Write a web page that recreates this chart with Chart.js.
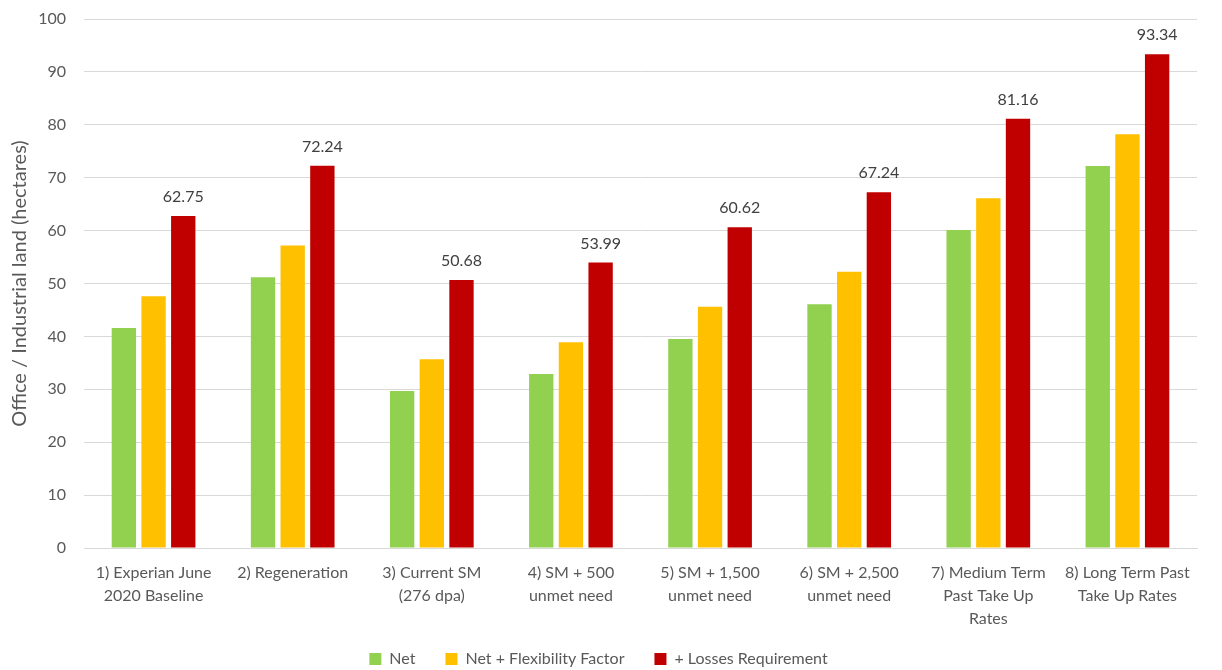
<!DOCTYPE html>
<html>
<head>
<meta charset="utf-8">
<script src="https://cdn.jsdelivr.net/npm/chart.js@4"></script>
<style>
  html, body { margin: 0; padding: 0; background: #fff; }
  #box { width: 1222px; height: 670px; }
</style>
</head>
<body>
<div id="box"><canvas id="grafico"></canvas></div>
<script>
// categorias (eixo x)
var categorias = [
  ['1) Experian June', '2020 Baseline'],
  ['2) Regeneration'],
  ['3) Current SM', '(276 dpa)'],
  ['4) SM + 500', 'unmet need'],
  ['5) SM + 1,500', 'unmet need'],
  ['6) SM + 2,500', 'unmet need'],
  ['7) Medium Term', 'Past Take Up', 'Rates'],
  ['8) Long Term Past', 'Take Up Rates']
];

// valores
var valoresNet = [41.6, 51.2, 29.7, 32.9, 39.5, 46.1, 60.1, 72.2];
var valoresFlex = [47.6, 57.2, 35.7, 38.9, 45.6, 52.2, 66.1, 78.2];
var valoresPerdas = [62.75, 72.24, 50.68, 53.99, 60.62, 67.24, 81.16, 93.34];

var nomesSeries = ['Net', 'Net + Flexibility Factor', '+ Losses Requirement'];
var cores = ['#92D050', '#FFC000', '#C00000'];

var fonte = 'Lato, "Open Sans", sans-serif';

// escreve o valor em cima das barras vermelhas
var rotulos = {
  id: 'rotulos',
  afterDatasetsDraw: function(chart) {
    var ctx = chart.ctx;
    var meta = chart.getDatasetMeta(2);
    ctx.save();
    ctx.font = '16px ' + fonte;
    ctx.fillStyle = '#404040';
    ctx.textAlign = 'center';
    ctx.textBaseline = 'middle';
    for (var i = 0; i < meta.data.length; i++) {
      var barra = meta.data[i];
      ctx.fillText(valoresPerdas[i].toFixed(2), barra.x, barra.y - 19);
    }
    ctx.restore();
  }
};

// sobe o topo da legenda (o fundo fica igual, senao corta o texto)
var sobeLegenda = {
  id: 'sobeLegenda',
  afterLayout: function(chart) {
    if (chart.legend) {
      chart.legend.top -= 9;
    }
  }
};

var ctx = document.getElementById('grafico');
new Chart(ctx.getContext('2d'), {
  type: 'bar',
  data: {
    labels: categorias,
    datasets: [
      { label: nomesSeries[0], data: valoresNet, backgroundColor: cores[0] },
      { label: nomesSeries[1], data: valoresFlex, backgroundColor: cores[1] },
      { label: nomesSeries[2], data: valoresPerdas, backgroundColor: cores[2] }
    ]
  },
  options: {
    responsive: true,
    maintainAspectRatio: false,
    animation: false,
    datasets: {
      bar: { categoryPercentage: 0.64, barPercentage: 0.82 }
    },
    layout: { padding: { left: 0, right: 25, top: 19, bottom: 0 } },
    plugins: {
      legend: {
        position: 'bottom',
        maxHeight: 40,
        labels: {
          boxWidth: 12,
          boxHeight: 12,
          padding: 30,
          color: '#595959',
          font: { family: fonte, size: 16 }
        }
      },
      tooltip: { enabled: false }
    },
    scales: {
      x: {
        grid: { display: false, drawTicks: false },
        border: { color: '#D9D9D9', width: 1 },
        afterFit: function(escala) { escala.height = 82; },
        ticks: {
          color: '#595959',
          maxRotation: 0,
          autoSkip: false,
          padding: 13,
          font: { family: fonte, size: 16, lineHeight: 1.44 }
        }
      },
      y: {
        min: 0,
        max: 100,
        afterFit: function(escala) {
          escala.width = 84;
          escala.paddingTop = 0;
          escala.paddingBottom = 0;
        },
        ticks: {
          stepSize: 10,
          color: '#595959',
          padding: 18,
          font: { family: fonte, size: 16 }
        },
        grid: { color: '#D9D9D9', drawTicks: false },
        border: { display: false },
        title: {
          display: true,
          text: 'Office / Industrial land (hectares)',
          color: '#595959',
          padding: { top: 8, bottom: 0 },
          font: { family: fonte, size: 20 }
        }
      }
    }
  },
  plugins: [rotulos, sobeLegenda]
});
</script>
</body>
</html>
